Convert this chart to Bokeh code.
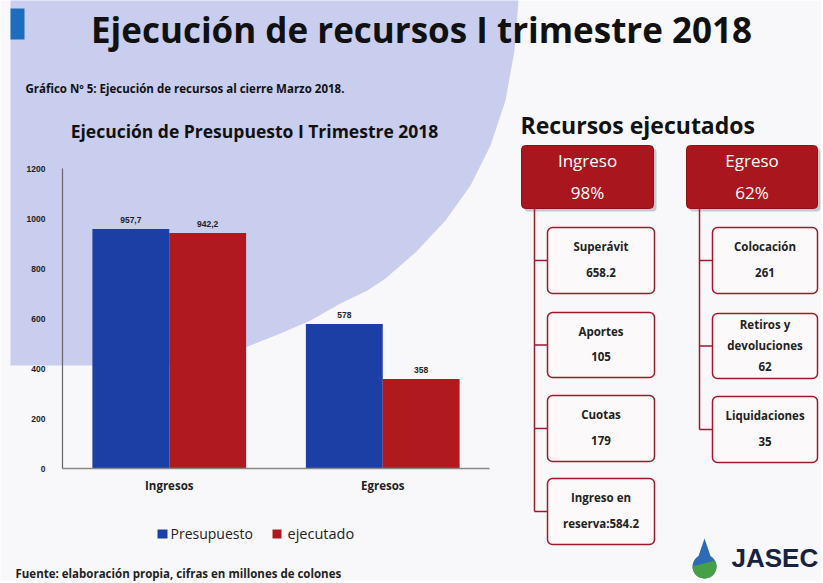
import math
from bokeh.plotting import figure
from bokeh.models import (Range1d, FactorRange, LinearAxis, CategoricalAxis, FixedTicker,
                          ColumnDataSource)
from bokeh.transform import dodge
from bokeh.core.properties import value
from bokeh.embed import file_html
from bokeh.resources import INLINE

# ---------------- data ----------------
categories = ["Ingresos", "Egresos"]
presupuesto = [957.7, 578]
ejecutado = [942.2, 358]
series_names = ["Presupuesto", "ejecutado"]
y_ticks = [0, 200, 400, 600, 800, 1000, 1200]

ingreso_header = ["Ingreso", "98%"]
egreso_header = ["Egreso", "62%"]
ingreso_items = ["Superávit\n658.2", "Aportes\n105", "Cuotas\n179", "Ingreso en\nreserva:584.2"]
egreso_items = ["Colocación\n261", "Retiros y\ndevoluciones\n62", "Liquidaciones\n35"]

main_title = "Ejecución de recursos I trimestre 2018"
subtitle = "Gráfico Nº 5: Ejecución de recursos al cierre Marzo 2018."
chart_title = "Ejecución de Presupuesto I Trimestre 2018"
tree_title = "Recursos ejecutados"
source_note = "Fuente: elaboración propia, cifras en millones de colones"

# ---------------- layout constants ----------------
W, H = 821, 581
PL, PR, PT, PB = 62, 489, 168, 468   # plot area (slide pixels)
BLUE = "#1c3fa5"
RED = "#b0191e"
LAV = "#c9cdee"
BG = "#f8f8fa"
DARKRED = "#a0192a"
FONT = "Open Sans"

p = figure(width=W, height=H, output_backend="svg", toolbar_location=None,
           x_range=FactorRange(factors=categories, range_padding=0),
           y_range=Range1d(0, 1200),
           x_axis_location=None, y_axis_location=None,
           min_border_left=PL, min_border_right=W - PR,
           min_border_top=PT, min_border_bottom=H - PB)
p.border_fill_color = BG
p.background_fill_color = BG
p.outline_line_color = None
p.grid.visible = False

# slide-pixel helpers: x in synthetic categorical coords, y in an extra linear range
NCAT = len(categories)
def X(vals):
    return [(v - PL) / (PR - PL) * NCAT for v in vals]

p.extra_y_ranges = {"sy": Range1d(PB, PT)}
S = dict(y_range_name="sy")

# background lavender shape
bg_x = [10, 518, 514, 505, 490, 470, 445, 415, 385, 367, 340, 310, 280, 245, 215, 195, 10]
bg_y = [0, 0, 50, 100, 145, 185, 220, 252, 278, 290, 303, 320, 333, 347, 356, 365, 365]
p.patch(X(bg_x), bg_y, fill_color=LAV, line_color=None, level="guide", **S)
# blue title mark
p.quad(left=X([10]), right=X([24]), top=[8], bottom=[39], fill_color="#1d6cc0", line_color=None,
       level="guide", **S)

# axes
yax = LinearAxis(ticker=FixedTicker(ticks=y_ticks), level="overlay")
yax.axis_line_color = "#666666"
yax.axis_line_width = 1.2
yax.major_tick_line_color = None
yax.minor_tick_line_color = None
yax.major_label_standoff = 11
yax.major_label_text_font = "Liberation Sans"
yax.major_label_text_font_style = "bold"
yax.major_label_text_font_size = "8.5px"
yax.major_label_text_color = "#222222"
p.add_layout(yax, "left")

xax = CategoricalAxis(level="overlay")
xax.axis_line_color = "#888888"
xax.axis_line_width = 1.5
xax.major_tick_line_color = None
xax.minor_tick_line_color = None
xax.major_label_standoff = 3
xax.major_label_text_font = FONT
xax.major_label_text_font_style = "bold"
xax.major_label_text_font_size = "11.5px"
xax.major_label_text_color = "#222222"
p.add_layout(xax, "below")

# bars
src = ColumnDataSource(dict(
    cat=categories, pres=presupuesto, ejec=ejecutado,
    pres_lbl=[f"{v:g}".replace(".", ",") for v in presupuesto],
    ejec_lbl=[f"{v:g}".replace(".", ",") for v in ejecutado],
))
r1 = p.vbar(x=dodge("cat", -0.18, range=p.x_range), top="pres", width=0.36, source=src,
            fill_color=BLUE, line_color=None, level="annotation", name=series_names[0])
r2 = p.vbar(x=dodge("cat", 0.18, range=p.x_range), top="ejec", width=0.36, source=src,
            fill_color=RED, line_color=None, level="annotation", name=series_names[1])
for col, lbl, off in (("pres", "pres_lbl", -0.18), ("ejec", "ejec_lbl", 0.18)):
    p.text(x=dodge("cat", off, range=p.x_range), y=col, text=lbl, source=src,
           y_offset=-6, text_align="center", text_baseline="bottom",
           text_font=value("Liberation Sans"), text_font_style="bold",
           text_font_size="8.5px", text_color="#222222", level="overlay")

# texts (y = visual centre of the line)
def txt(x, y, t, size, style="normal", color="#111111", align="left", font=FONT, **kw):
    p.text(x=X([x]), y=[y], text=[t], text_font=value(font), text_font_size=size,
           text_font_style=style, text_color=color, text_align=align, text_baseline="middle",
           level="overlay", **S, **kw)

# legend (drawn by hand below the chart)
leg_sq = [(157, 167), (272, 281)]
for (l, r), c in zip(leg_sq, (BLUE, RED)):
    p.quad(left=X([l]), right=X([r]), top=[529], bottom=[538], fill_color=c, line_color=None,
           level="annotation", **S)
txt(170, 533, series_names[0], "14px", color="#222222")
txt(287, 533, series_names[1], "14.5px", color="#222222")

txt(421, 29, main_title, "35px", "bold", align="center")
txt(25, 88, subtitle, "11.5px", "bold")
txt(254, 130, chart_title, "17.5px", "bold", align="center")
txt(520, 124, tree_title, "23px", "bold")
txt(15, 573, source_note, "11.5px", "bold", color="#222222")

# tree: headers
hdr_l = [521, 686]
hdr_r = [653, 817]
hdr_t, hdr_b = 145, 208
p.quad(left=X([l + 3 for l in hdr_l]), right=X([r + 3 for r in hdr_r]), top=[hdr_t + 3] * 2,
       bottom=[hdr_b + 3] * 2, fill_color="#8f8f9a", fill_alpha=0.45, line_color=None,
       border_radius=4, level="guide", **S)
p.quad(left=X(hdr_l), right=X(hdr_r), top=[hdr_t] * 2, bottom=[hdr_b] * 2,
       fill_color="#a9161d", line_color="#8e1016", border_radius=4, level="annotation", **S)
for (l, r), hdr in zip(zip(hdr_l, hdr_r), (ingreso_header, egreso_header)):
    cx = (l + r) / 2
    txt(cx, 160, hdr[0], "17px", color="white", align="center")
    txt(cx, 192, hdr[1], "17px", color="white", align="center")

# tree: children
ing_boxes = [(227, 293), (312, 377), (395, 461), (478, 544)]
egr_boxes = [(227, 293), (313, 378), (396, 462)]
ing_l, ing_r, ing_stem = 547, 654, 534
egr_l, egr_r, egr_stem = 712, 817, 699

for boxes, items, bl, br, stem in ((ing_boxes, ingreso_items, ing_l, ing_r, ing_stem),
                                    (egr_boxes, egreso_items, egr_l, egr_r, egr_stem)):
    mids = [(t + b) / 2 for t, b in boxes]
    p.segment(x0=X([stem]), y0=[hdr_b], x1=X([stem]), y1=[mids[-1]], line_color=DARKRED,
              line_width=1.5, level="annotation", **S)
    p.segment(x0=X([stem] * len(mids)), y0=mids, x1=X([bl] * len(mids)), y1=mids,
              line_color=DARKRED, line_width=1.5, level="annotation", **S)
    p.quad(left=X([bl] * len(boxes)), right=X([br] * len(boxes)), top=[t for t, b in boxes],
           bottom=[b for t, b in boxes], fill_color="#fcf9fa", line_color=DARKRED,
           line_width=1.5, border_radius=5, level="annotation", **S)
    for (t, b), it in zip(boxes, items):
        n = it.count("\n") + 1
        p.text(x=X([(bl + br) / 2]), y=[(t + b) / 2 - 1], text=[it], text_font=value(FONT),
               text_font_size="11.5px", text_font_style="bold", text_color="#222222",
               text_align="center", text_baseline="middle",
               text_line_height=1.7 if n == 2 else 1.4, level="overlay", **S)

# logo: drop icon (blue top, green bottom) and wordmark
cx, cy, rr = 704, 566, 12
angs = list(range(-60, 241, 10))
p.patch(X([cx] + [cx + rr * math.cos(math.radians(a)) for a in angs]),
        [538] + [cy + rr * math.sin(math.radians(a)) for a in angs],
        fill_color="#2d6cb5", line_color=None, level="annotation", **S)
g_ang = list(range(-30, 181, 10))
p.patch(X([cx + rr * math.cos(math.radians(a)) for a in g_ang]),
        [cy + rr * math.sin(math.radians(a)) for a in g_ang],
        fill_color="#45a046", line_color=None, level="annotation", **S)
txt(731, 557, "JASEC", "26px", "bold", color="#16223f", font="Liberation Sans")

open("out.html", "w").write(file_html(p, INLINE))
